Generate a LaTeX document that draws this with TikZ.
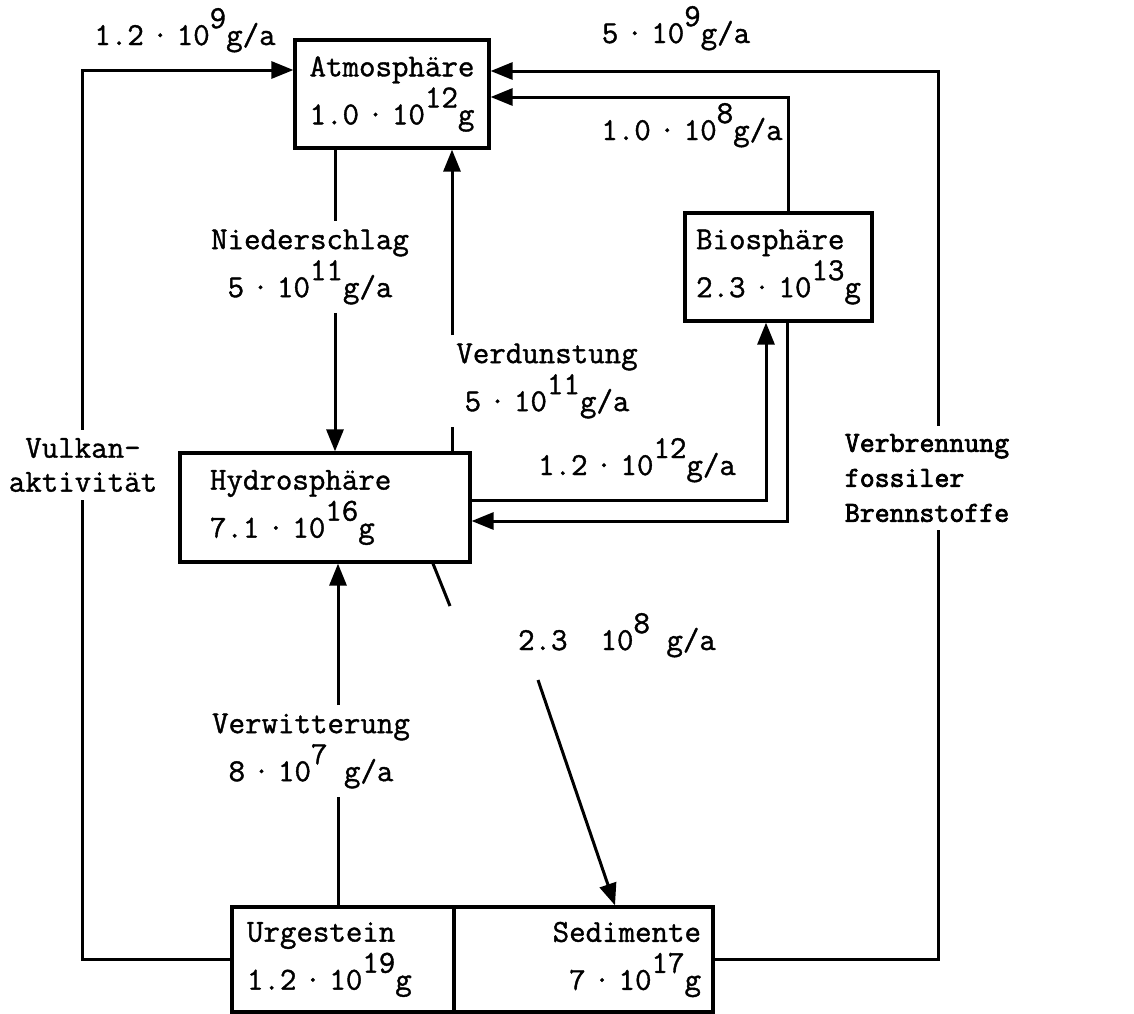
\documentclass[tikz,border=0pt]{standalone}
\usepackage{fontspec}
\usepackage{tikz}
\usetikzlibrary{arrows.meta}
\newfontfamily\schreib{lmmono12-regular.otf}[FakeBold=1.2]
\newfontfamily\schreibfett{lmmono12-regular.otf}[FakeBold=2.6]
\newcommand{\hoch}[1]{\raisebox{0.53em}{#1}}
\newcommand{\pkt}{\makebox[2\fontcharwd\font`0]{·}}

\begin{document}
\begin{tikzpicture}[x=0.5pt, y=-0.5pt,
  font=\schreib\fontsize{16pt}{24pt}\selectfont,
  box/.style={rectangle, draw, line width=1.6pt, inner sep=0pt},
  lbl/.style={inner sep=4pt, align=center},
  line/.style={line width=1.5pt},
  flow/.style={line width=1.5pt, -{Triangle[length=11pt,width=8.5pt]}}
]
\useasboundingbox (0,0) rectangle (1134,1013);

\node[box, minimum width=97pt, minimum height=54pt, align=center] (atm) at (392,94) {Atmosphäre\\1.0\pkt10\hoch{12}g};
\node[box, minimum width=93.5pt, minimum height=54pt, align=left] (bio) at (778.5,267) {Biosphäre\\2.3\pkt10\hoch{13}g};
\node[box, minimum width=145pt, minimum height=54.5pt, text width=115pt, align=left] (hyd) at (325,507.5) {Hydrosphäre\\7.1\pkt10\hoch{16}g};
\node[box, minimum width=111pt, minimum height=52.5pt, text width=96pt, align=left] (urg) at (343,959.5) {Urgestein\\1.2\pkt10\hoch{19}g};
\node[box, minimum width=129.5pt, minimum height=52.5pt, text width=117.5pt, align=right] (sed) at (583.5,959.5) {Sedimente\\7\pkt10\hoch{17}g};

\node[lbl] (nied) at (310,267) {Niederschlag\\5\pkt10\hoch{11}g/a};
\node[lbl] (verd) at (547,381) {Verdunstung\\5\pkt10\hoch{11}g/a};
\node[lbl] (verw) at (311,751) {Verwitterung\\8\pkt10\hoch{7} g/a};
\node[lbl, font=\schreib\fontsize{16pt}{17pt}\selectfont] (vulk) at (83,465) {Vulkan-\\aktivität};
\node[lbl, align=left, font=\schreibfett\fontsize{14.5pt}{17.5pt}\selectfont] (verb) at (927,478) {Verbrennung\\fossiler\\Brennstoffe};

\node[anchor=base] (r1) at (185,45) {1.2\pkt10\hoch{9}g/a};
\node[anchor=base] (r2) at (676,43) {5\pkt10\hoch{9}g/a};
\node[anchor=base] (r3) at (692,140) {1.0\pkt10\hoch{8}g/a};
\node[anchor=base] (r4) at (637,475) {1.2\pkt10\hoch{12}g/a};
\node[anchor=base] (r5) at (617,650) {2.3\ \ 10\hoch{8} g/a};

\coordinate (xv) at (82,0);
\coordinate (xn) at (335,0);
\coordinate (xd) at (452,0);
\coordinate (xw) at (338,0);
\coordinate (xb) at (938,0);
\coordinate (s1) at (450,606);
\coordinate (s2) at (538,680);

\draw[line] (urg.west) -| (xv |- vulk.south);
\draw[flow] (xv |- vulk.north) |- ([yshift=12pt]atm.west);
\draw[line] (sed.east) -| (xb |- verb.south);
\draw[flow] (xb |- verb.north) |- ([yshift=11.5pt]atm.east);
\draw[flow] ([xshift=4.75pt]bio.north) |- ([yshift=-1.5pt]atm.east);

\draw[line] (xn |- atm.south) -- (xn |- nied.north);
\draw[flow] (xn |- nied.south) -- (xn |- hyd.north);
\draw[line] (xd |- hyd.north) -- (xd |- verd.south);
\draw[flow] (xd |- verd.north) -- (xd |- atm.south);

\draw[flow] ([yshift=3.75pt]hyd.east) -| ([xshift=-6.25pt]bio.south);
\draw[flow] ([xshift=4.25pt]bio.south) |- ([yshift=-6.75pt]hyd.east);

\draw[line] (xw |- urg.north) -- (xw |- verw.south);
\draw[flow] (xw |- verw.north) -- (xw |- hyd.south);

\draw[line] ([xshift=54pt]hyd.south) -- (s1);
\draw[flow] (s2) -- ([xshift=15.75pt]sed.north);
\end{tikzpicture}
\end{document}
